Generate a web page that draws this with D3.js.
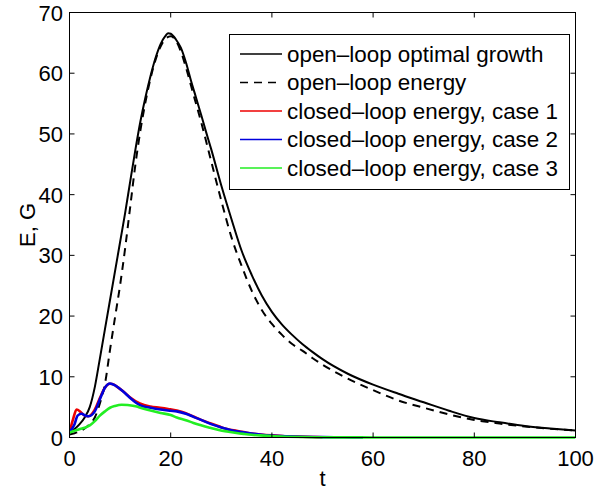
<!DOCTYPE html>
<html>
<head>
<meta charset="utf-8">
<script src="https://cdn.jsdelivr.net/npm/d3@7"></script>
<style>
  html, body { margin: 0; padding: 0; background: #fff; }
  svg { display: block; }
  text { font-family: "Liberation Sans", Arial, Helvetica, sans-serif; fill: #000; }
</style>
</head>
<body>
<svg id="chart" width="611" height="492"></svg>
<script>
// Open-loop optimal growth G(t)
const tGrowth = [0,1,2,3,4,5,6,7,8,9,10,11,12,13,14,15,16,17,18,19,19.5,20,21,22,23,24,25,26,27,28,30,32,34,36,38,40,42,44,46,48,50,55,60,65,70,75,80,85,90,95,100];
const growth  = [0.8,1.4,2.2,3.3,5.0,8.3,13.0,17.8,22.6,27.4,32.2,37,42.2,47.3,52,56,59.5,62.5,64.8,66.2,66.6,66.5,65.6,64.2,61.8,58.8,56,53.2,50.3,47.5,41.5,36,30.8,26.8,23.4,20.7,18.6,16.9,15.4,14.1,12.9,10.5,8.7,7.2,5.8,4.4,3.2,2.5,1.9,1.5,1.15];

// Open-loop energy E(t)
const tOpen = [0,1,2,3,4,5,6,7,8,9,10,11,12,13,14,15,16,17,18,19,20,21,22,23,24,25,26,28,30,32,34,36,38,40,42,44,46,48,50,55,60,65,70,75,80,85,90,95,100];
const openEnergy = [0.5,0.7,1.0,1.5,2.2,3.3,5.6,8.8,14.4,19.8,25.1,31.2,38,44.8,50.5,55.2,59.1,62.2,64.4,65.7,66.1,65.4,63.6,61,58,55,52,45.5,39,33,28.3,24.2,21,18.7,16.9,15.4,14.3,13.1,12,9.7,7.8,6.1,4.9,3.8,2.9,2.3,1.8,1.45,1.15];

// Closed-loop energy, case 1
const tCase1 = [0,0.7,1.4,2.2,3,3.7,5,6,7,8,8.8,9.5,10.6,12,13.9,16,17.9,19.5,21.2,23,24.5,26,27.8,29.5,31.1,33,34.4,36,37.7,40,42,45,48,50];
const case1  = [0.9,3.0,4.6,4.2,3.6,3.5,4.6,6.5,8.2,8.85,8.7,8.3,7.6,6.6,5.6,5.1,4.9,4.7,4.45,4.0,3.45,2.9,2.35,1.85,1.4,1.1,0.9,0.65,0.5,0.35,0.25,0.15,0.08,0.05];

// Closed-loop energy, case 2
const tCase2 = [0,1,1.6,2.4,3.2,3.8,5,6,7,8,9,10,11,12,14,16,18,20,21.2,23,24.5,26,28,30,32,34,36,38,40,43,46,50,54,58];
const case2  = [0.9,2.2,3.6,3.9,3.6,3.5,4.3,6.3,8.2,8.9,8.6,8.0,7.3,6.5,5.3,4.9,4.6,4.4,4.3,3.9,3.4,2.9,2.2,1.65,1.2,0.9,0.65,0.45,0.32,0.2,0.12,0.06,0.03,0.02];

// Closed-loop energy, case 3
const tCase3 = [0,1,2.1,3,4,5,6,7,8,9,10.3,11.5,13.3,14,16,18,20,21.2,23,24.5,26,27.8,29.5,31.1,33,34.4,36,37.7,40,43,46,50,55,60,70,80,90,100];
const case3  = [0.8,1.1,1.4,1.6,2.0,2.7,3.6,4.3,4.9,5.2,5.4,5.35,5.1,4.9,4.45,4.05,3.7,3.3,2.85,2.4,2.0,1.6,1.25,1.0,0.75,0.6,0.45,0.35,0.22,0.13,0.08,0.04,0.02,0.01,0.01,0.01,0.01,0.01];

const xTicks = [0,20,40,60,80,100];
const yTicks = [0,10,20,30,40,50,60,70];

const legendLabels = [
  "open\u2013loop optimal growth",
  "open\u2013loop energy",
  "closed\u2013loop energy, case 1",
  "closed\u2013loop energy, case 2",
  "closed\u2013loop energy, case 3"
];

const series = [
  { t: tGrowth, v: growth,     color: "#000000", dash: null,  width: 2 },
  { t: tOpen,   v: openEnergy, color: "#000000", dash: "8,6", width: 2 },
  { t: tCase1,  v: case1,      color: "#ee0000", dash: null,  width: 2.6 },
  { t: tCase2,  v: case2,      color: "#0000dd", dash: null,  width: 2.6 },
  { t: tCase3,  v: case3,      color: "#22ee22", dash: null,  width: 2.6 }
];

const svg = d3.select("#chart");
const pLeft = 69.5, pRight = 575.5, pTop = 12.5, pBottom = 437.5;

const x = d3.scaleLinear().domain([0, 100]).range([pLeft, pRight]);
const y = d3.scaleLinear().domain([0, 70]).range([pBottom, pTop]);

const plot = svg.append("g");
plot.append("defs").append("clipPath").attr("id", "clip")
  .append("rect").attr("x", pLeft).attr("y", pTop - 2).attr("width", pRight - pLeft).attr("height", pBottom - pTop + 4);

const line = d3.line().curve(d3.curveMonotoneX);

const curves = plot.append("g").attr("clip-path", "url(#clip)");
series.forEach(s => {
  const pts = s.t.map((t, i) => [x(t), y(s.v[i])]);
  curves.append("path")
    .attr("d", line(pts))
    .attr("fill", "none")
    .attr("stroke", s.color)
    .attr("stroke-width", s.width)
    .attr("stroke-linejoin", "round")
    .attr("stroke-dasharray", s.dash);
});

// Box and inward ticks
const axes = svg.append("g").attr("stroke", "#000").attr("stroke-width", 1).attr("fill", "none");
axes.append("rect").attr("x", pLeft).attr("y", pTop).attr("width", pRight - pLeft).attr("height", pBottom - pTop);
const tl = 5;
xTicks.forEach(v => {
  axes.append("line").attr("x1", x(v)).attr("x2", x(v)).attr("y1", pBottom).attr("y2", pBottom - tl);
  axes.append("line").attr("x1", x(v)).attr("x2", x(v)).attr("y1", pTop).attr("y2", pTop + tl);
});
yTicks.forEach(v => {
  axes.append("line").attr("x1", pLeft).attr("x2", pLeft + tl).attr("y1", y(v)).attr("y2", y(v));
  axes.append("line").attr("x1", pRight).attr("x2", pRight - tl).attr("y1", y(v)).attr("y2", y(v));
});

const fs = 22;
const labels = svg.append("g").style("font-size", fs + "px");
xTicks.forEach(v => {
  labels.append("text").attr("x", x(v)).attr("y", 466).attr("text-anchor", "middle").text(v);
});
yTicks.forEach(v => {
  labels.append("text").attr("x", 63).attr("y", y(v) + 8).attr("text-anchor", "end").text(v);
});
labels.append("text").attr("x", (pLeft + pRight) / 2).attr("y", 486).attr("text-anchor", "middle").text("t");
labels.append("text")
  .attr("transform", `translate(35,${(pTop + pBottom) / 2}) rotate(-90)`)
  .attr("text-anchor", "middle").text("E, G");

// Legend
const lg = svg.append("g");
lg.append("rect").attr("x", 229.5).attr("y", 34.5).attr("width", 340).attr("height", 155)
  .attr("fill", "#fff").attr("stroke", "#000").attr("stroke-width", 1);
const rowY = [54, 82.5, 111, 139.5, 168];
series.forEach((s, i) => {
  lg.append("line").attr("x1", 240).attr("x2", 282).attr("y1", rowY[i]).attr("y2", rowY[i])
    .attr("stroke", s.color).attr("stroke-width", 1.6).attr("stroke-dasharray", s.dash);
  lg.append("text").attr("x", 287).attr("y", rowY[i] + 7.5).style("font-size", "22.4px").text(legendLabels[i]);
});
</script>
</body>
</html>
